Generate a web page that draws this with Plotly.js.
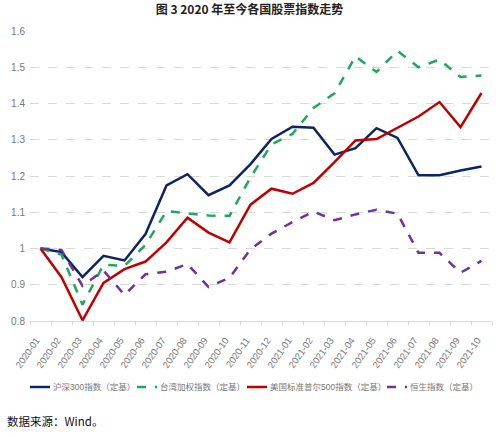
<!DOCTYPE html>
<html>
<head>
<meta charset="utf-8">
<script src="https://cdn.plot.ly/plotly-3.0.1.min.js"></script>
<style>html,body{margin:0;padding:0;background:#fff;}#chart{width:499px;height:437px;}</style>
</head>
<body>
<div id="chart"></div>
<script>
var months = ["2020-01","2020-02","2020-03","2020-04","2020-05","2020-06","2020-07","2020-08","2020-09","2020-10","2020-11","2020-12","2021-01","2021-02","2021-03","2021-04","2021-05","2021-06","2021-07","2021-08","2021-09","2021-10"];
var hs300 = [1.0,0.99,0.921,0.98,0.967,1.04,1.174,1.205,1.147,1.174,1.233,1.302,1.336,1.333,1.259,1.277,1.332,1.305,1.202,1.202,1.215,1.226];
var taiex = [1.0,0.983,0.845,0.955,0.952,1.01,1.103,1.097,1.091,1.09,1.196,1.287,1.316,1.388,1.428,1.53,1.487,1.545,1.5,1.521,1.473,1.477];
var sp500 = [1.0,0.921,0.802,0.905,0.943,0.964,1.017,1.085,1.044,1.017,1.121,1.165,1.151,1.181,1.238,1.298,1.302,1.333,1.364,1.404,1.335,1.429];
var hsi = [1.0,0.996,0.897,0.939,0.872,0.929,0.936,0.957,0.894,0.919,0.998,1.041,1.073,1.102,1.078,1.094,1.107,1.096,0.988,0.988,0.933,0.966];
var names = ["沪深300指数（定基）","台湾加权指数（定基）","美国标准普尔500指数（定基）","恒生指数（定基）"];

var font = "Liberation Sans, Arial, sans-serif";
var cjk = "Liberation Sans, Noto Sans CJK SC, sans-serif";
var styles = [
  {color: '#0b2564', dash: 'solid'},
  {color: '#1ea85a', dash: 'dash'},
  {color: '#c00000', dash: 'solid'},
  {color: '#7030a0', dash: 'dash'}
];
var series = [hs300, taiex, sp500, hsi];
var data = series.map(function(y, i){
  return {x: months, y: y, name: names[i], type: 'scatter', mode: 'lines', showlegend: false,
    line: {color: styles[i].color, width: 2.5, dash: styles[i].dash}};
});

// custom one-row legend (key start pixel positions across the page)
var plotL = 30, plotW = 462, plotB = 320.7, plotH = 290;
var keyPx = [30, 137, 247, 387];
var legendY = 386.7;
var shapes = [], annotations = [];
names.forEach(function(n, i){
  var yp = (plotB - legendY) / plotH;
  shapes.push({type: 'line', xref: 'paper', yref: 'paper',
    x0: (keyPx[i] - plotL) / plotW, x1: (keyPx[i] + 20 - plotL) / plotW, y0: yp, y1: yp,
    line: {color: styles[i].color, width: 2.5, dash: styles[i].dash}});
  annotations.push({text: n, xref: 'paper', yref: 'paper', x: (keyPx[i] + 21 - plotL) / plotW,
    xanchor: 'left', y: yp, yanchor: 'middle', showarrow: false,
    font: {family: cjk, size: 8.5, color: '#777'}});
});
annotations.push({text: '数据来源：Wind。', xref: 'paper', yref: 'paper', x: (5 - plotL) / plotW, xanchor: 'left',
  y: (plotB - 421) / plotH, yanchor: 'middle', showarrow: false,
  font: {family: 'Noto Sans CJK SC, serif', size: 11.5, color: '#111'}});

var layout = {
  width: 499, height: 437,
  margin: {l: 30, r: 7, t: 31, b: 116},
  paper_bgcolor: '#fff', plot_bgcolor: '#fff',
  showlegend: false,
  title: {text: '<b>图 3 2020 年至今各国股票指数走势</b>', x: 0.5, xanchor: 'center', y: 0.978, yanchor: 'middle',
    font: {family: 'Noto Sans CJK SC, sans-serif', size: 12, color: '#222'}},
  xaxis: {type: 'category', tickangle: -55, tickfont: {family: font, size: 9.5, color: '#777'},
    showgrid: false, zeroline: false, showline: true, linecolor: '#d9d9d9', linewidth: 1,
    ticks: 'outside', tickson: 'boundaries', ticklen: 3, tickcolor: '#d9d9d9',
    ticklabelstandoff: 9, ticklabelshift: -4,
    range: [-0.5, 21.5]},
  yaxis: {range: [0.8, 1.6], dtick: 0.1, tick0: 0.8, tickfont: {family: font, size: 10, color: '#777'},
    showgrid: true, gridcolor: '#d9d9d9', griddash: 'dash', gridwidth: 1, zeroline: false, showline: false,
    ticks: '', ticklabelstandoff: 4},
  shapes: shapes,
  annotations: annotations
};
Plotly.newPlot('chart', data, layout, {displayModeBar: false, staticPlot: true});
</script>
</body>
</html>
